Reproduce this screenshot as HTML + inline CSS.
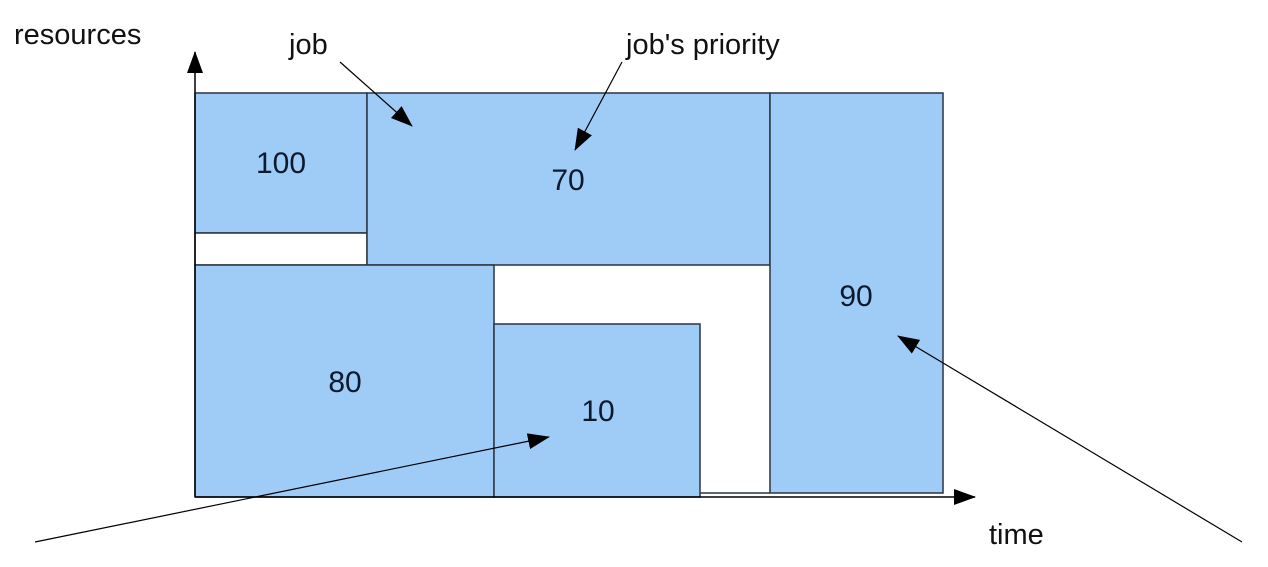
<!DOCTYPE html><html><head><style>body{margin:0;background:#fff}</style></head><body>
<svg width="1268" height="562" viewBox="0 0 1268 562" xmlns="http://www.w3.org/2000/svg" font-family="Liberation Sans, sans-serif">
<defs>
<marker id="b" markerWidth="22" markerHeight="16" refX="21" refY="8" orient="auto" markerUnits="userSpaceOnUse" viewBox="0 0 22 16"><path d="M0,0 L22,8 L0,16 z" fill="#000"/></marker></defs>
<g stroke="#2a3440" stroke-width="1.5">
<rect x="195" y="93" width="172" height="140" fill="#9fcbf7"/>
<rect x="195" y="233" width="172" height="32" fill="#fff"/>
<rect x="367" y="93" width="403" height="172" fill="#9fcbf7"/>
<rect x="770" y="93" width="173" height="400" fill="#9fcbf7"/>
<rect x="195" y="265" width="299" height="232" fill="#9fcbf7"/>
<rect x="494" y="324" width="206" height="173" fill="#9fcbf7"/>
<line x1="700" y1="493" x2="770" y2="493"/>
</g>
<g stroke="#000" stroke-width="1.5">
<line x1="195" y1="497" x2="195" y2="52" marker-end="url(#b)"/>
<line x1="195" y1="497" x2="975" y2="497" marker-end="url(#b)"/>
<line x1="340" y1="62" x2="412" y2="126" marker-end="url(#b)" stroke-width="1.2"/>
<line x1="622" y1="62" x2="575" y2="150" marker-end="url(#b)" stroke-width="1.2"/>
<line x1="35" y1="542" x2="549" y2="437" marker-end="url(#b)" stroke-width="1.2"/>
<line x1="1242" y1="542" x2="898" y2="336" marker-end="url(#b)" stroke-width="1.2"/>
</g>
<g font-size="29" fill="#111">
<text x="14" y="44">resources</text>
<text x="289" y="54">job</text>
<text x="626" y="54">job's priority</text>
<text x="989" y="544">time</text>
<g text-anchor="middle" fill="#0d1a2e" font-size="30">
<text x="281" y="173">100</text>
<text x="568" y="190">70</text>
<text x="856" y="306">90</text>
<text x="345" y="392">80</text>
<text x="598" y="421">10</text>
</g></g>
</svg></body></html>
